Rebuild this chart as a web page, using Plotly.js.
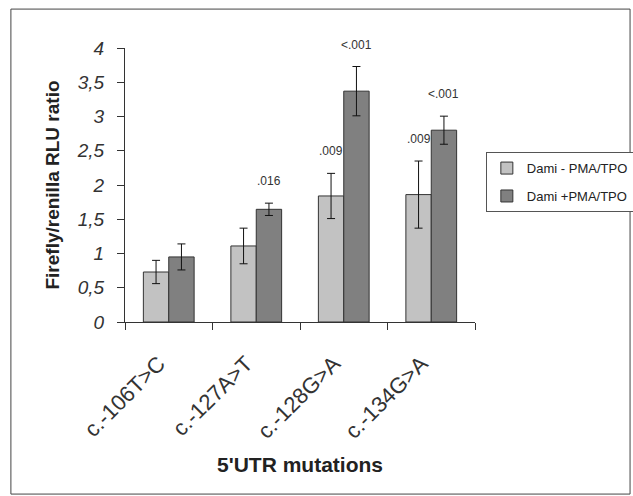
<!DOCTYPE html>
<html><head><meta charset="utf-8">
<script src="https://cdn.plot.ly/plotly-3.0.1.min.js"></script>
<style>html,body{margin:0;padding:0;background:#fff}#chart{width:633px;height:496px}</style>
</head><body><div id="chart"></div>
<script>
var categories = ['c.-106T>C', 'c.-127A>T', 'c.-128G>A', 'c.-134G>A'];
var seriesNames = ['Dami - PMA/TPO', 'Dami +PMA/TPO'];
var lightValues = [0.73, 1.11, 1.84, 1.86];
var lightErrors = [0.17, 0.26, 0.33, 0.49];
var darkValues = [0.95, 1.645, 3.37, 2.80];
var darkErrors = [0.19, 0.09, 0.36, 0.205];
var lightP = ['', '', '.009', '.009'];
var darkP = ['', '.016', '<.001', '<.001'];
var yTicks = [0, 0.5, 1, 1.5, 2, 2.5, 3, 3.5, 4];

var font = 'Liberation Sans, Arial, sans-serif';

var traces = [
  {type:'bar', name:seriesNames[0], x:categories, y:lightValues, legendgroup:'a',
   marker:{color:'#c2c2c2', line:{color:'#333', width:1}},
   error_y:{type:'data', array:lightErrors, visible:true, color:'#111', thickness:1, width:4}},
  {type:'bar', name:seriesNames[1], x:categories, y:darkValues, legendgroup:'b',
   marker:{color:'#808080', line:{color:'#333', width:1}},
   error_y:{type:'data', array:darkErrors, visible:true, color:'#111', thickness:1, width:4}}
];

var annotations = [];
function addP(labels, vals, errs, shift){
  for (var i=0;i<categories.length;i++){
    if(!labels[i]) continue;
    annotations.push({x:categories[i], y:vals[i]+errs[i], xref:'x', yref:'y', text:labels[i],
      showarrow:false, xshift:shift, yshift:13, yanchor:'bottom',
      font:{family:font, size:12, color:'#333'}});
  }
}
addP(lightP, lightValues, lightErrors, -12.5);
addP(darkP, darkValues, darkErrors, 12.5);

var layout = {
  width:633, height:496,
  margin:{l:125, r:158, t:48, b:174, autoexpand:false},
  paper_bgcolor:'#fff', plot_bgcolor:'#fff',
  separators:',.',
  barmode:'group', bargap:0.42, bargroupgap:0,
  showlegend:true,
  legend:{x:1.031, xanchor:'left', y:0.62, yanchor:'top', bordercolor:'#555', borderwidth:1,
    bgcolor:'#fff', font:{family:font, size:13, color:'#222'}, traceorder:'grouped', tracegroupgap:8},
  xaxis:{type:'category', showline:true, linecolor:'#333', linewidth:1, ticks:'outside', tickson:'boundaries',
    ticklen:7, tickcolor:'#333', tickangle:-45, showgrid:false, zeroline:false,
    ticklabelstandoff:19, ticklabelshift:-10, automargin:false,
    tickfont:{family:font, size:22, color:'#333'},
    title:{text:'<b>5\'UTR mutations</b>', font:{family:font, size:21, color:'#222'}, standoff:14}},
  yaxis:{range:[0,4], tickvals:yTicks, showline:true, linecolor:'#333', linewidth:1, ticks:'outside',
    ticklen:7, tickcolor:'#333', showgrid:false, zeroline:false, ticklabelstandoff:9, automargin:false,
    tickfont:{family:font, size:19, color:'#333', style:'italic'},
    title:{text:'<b>Firefly/renilla RLU ratio</b>', font:{family:font, size:19, color:'#222'}, standoff:12}},
  annotations:annotations,
  shapes:[{type:'rect', xref:'paper', yref:'paper', x0:-0.326, x1:1.443, y0:-0.628, y1:1.142,
    line:{color:'#444', width:1}, fillcolor:'rgba(0,0,0,0)', layer:'below'}]
};
Plotly.newPlot('chart', traces, layout, {displayModeBar:false, staticPlot:true});
</script></body></html>
